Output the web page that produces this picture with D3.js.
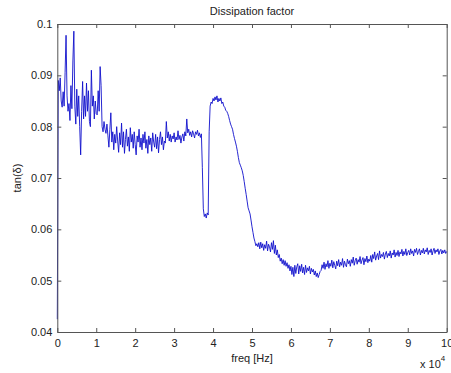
<!DOCTYPE html>
<html>
<head>
<meta charset="utf-8">
<script src="https://cdn.jsdelivr.net/npm/d3@7"></script>
<style>
  body { margin: 0; background: #fff; }
  svg text { font-family: "Liberation Sans", Arial, sans-serif; fill: #222; }
</style>
</head>
<body>
<div id="chart"></div>
<script>
// Chart size
const width = 451;
const height = 373;

// Frequency step between samples (Hz)
const freqStep = 250;

// tan(delta) values, one per 250 Hz from 0 to 100 kHz
const tanDelta = [
  0.0425, 0.0890, 0.0870, 0.0895, 0.0850, 0.0838, 0.0868, 0.0840, 0.0905, 0.0978,
  0.0860, 0.0830, 0.0845, 0.0812, 0.0880, 0.0835, 0.0928, 0.0986, 0.0840, 0.0805,
  0.0873, 0.0820, 0.0860, 0.0800, 0.0745, 0.0830, 0.0888, 0.0815, 0.0860, 0.0820,
  0.0885, 0.0830, 0.0870, 0.0810, 0.0800, 0.0910, 0.0840, 0.0860, 0.0815, 0.0850,
  0.0825, 0.0823, 0.0870, 0.0830, 0.0917, 0.0880, 0.0800, 0.0790, 0.0810, 0.0795,
  0.0787, 0.0805, 0.0782, 0.0760, 0.0795, 0.0827, 0.0770, 0.0790, 0.0755, 0.0785,
  0.0768, 0.0800, 0.0772, 0.0750, 0.0788, 0.0765, 0.0807, 0.0760, 0.0790, 0.0748,
  0.0775, 0.0795, 0.0762, 0.0780, 0.0752, 0.0798, 0.0770, 0.0785, 0.0758, 0.0790,
  0.0765, 0.0745, 0.0782, 0.0770, 0.0795, 0.0760, 0.0778, 0.0755, 0.0785, 0.0768,
  0.0790, 0.0758, 0.0775, 0.0748, 0.0782, 0.0765, 0.0778, 0.0752, 0.0788, 0.0770,
  0.0760, 0.0785, 0.0757, 0.0780, 0.0749, 0.0775, 0.0790, 0.0765, 0.0780, 0.0755,
  0.0772, 0.0768, 0.0810, 0.0778, 0.0790, 0.0772, 0.0785, 0.0770, 0.0782, 0.0776,
  0.0788, 0.0770, 0.0780, 0.0774, 0.0792, 0.0775, 0.0783, 0.0768, 0.0780, 0.0786,
  0.0772, 0.0790, 0.0782, 0.0815, 0.0788, 0.0795, 0.0783, 0.0790, 0.0780, 0.0792,
  0.0786, 0.0778, 0.0790, 0.0785, 0.0793, 0.0782, 0.0788, 0.0779, 0.0786, 0.0720,
  0.0640, 0.0625, 0.0630, 0.0622, 0.0632, 0.0628, 0.0790, 0.0840, 0.0848, 0.0845,
  0.0855, 0.0850, 0.0858, 0.0852, 0.0860, 0.0848, 0.0855, 0.0850, 0.0856, 0.0845,
  0.0848, 0.0840, 0.0838, 0.0832, 0.0830, 0.0826, 0.0820, 0.0812, 0.0805, 0.0800,
  0.0795, 0.0785, 0.0777, 0.0770, 0.0762, 0.0752, 0.0740, 0.0730, 0.0725, 0.0720,
  0.0714, 0.0705, 0.0693, 0.0680, 0.0668, 0.0655, 0.0642, 0.0636, 0.0630, 0.0618,
  0.0605, 0.0594, 0.0583, 0.0576, 0.0568, 0.0572, 0.0566, 0.0574, 0.0562, 0.0575,
  0.0564, 0.0572, 0.0559, 0.0570, 0.0563, 0.0577, 0.0558, 0.0571, 0.0566, 0.0556,
  0.0574, 0.0561, 0.0578, 0.0553, 0.0569, 0.0550, 0.0560, 0.0545, 0.0551, 0.0538,
  0.0544, 0.0533, 0.0541, 0.0530, 0.0539, 0.0528, 0.0535, 0.0524, 0.0531, 0.0519,
  0.0528, 0.0512, 0.0526, 0.0508, 0.0530, 0.0514, 0.0527, 0.0533, 0.0513, 0.0529,
  0.0518, 0.0532, 0.0515, 0.0526, 0.0512, 0.0530, 0.0516, 0.0525, 0.0519, 0.0528,
  0.0513, 0.0524, 0.0517, 0.0522, 0.0511, 0.0519, 0.0508, 0.0515, 0.0506, 0.0512,
  0.0518, 0.0520, 0.0531, 0.0524, 0.0536, 0.0522, 0.0533, 0.0527, 0.0539, 0.0524,
  0.0534, 0.0528, 0.0540, 0.0525, 0.0537, 0.0530, 0.0523, 0.0538, 0.0529, 0.0541,
  0.0527, 0.0536, 0.0530, 0.0543, 0.0526, 0.0538, 0.0531, 0.0527, 0.0542, 0.0533,
  0.0539, 0.0528, 0.0541, 0.0534, 0.0546, 0.0530, 0.0539, 0.0544, 0.0532, 0.0541,
  0.0536, 0.0547, 0.0533, 0.0540, 0.0545, 0.0531, 0.0543, 0.0537, 0.0548, 0.0535,
  0.0542, 0.0538, 0.0549, 0.0536, 0.0551, 0.0543, 0.0556, 0.0540, 0.0548, 0.0553,
  0.0541, 0.0558, 0.0544, 0.0551, 0.0547, 0.0555, 0.0542, 0.0552, 0.0557, 0.0545,
  0.0553, 0.0548, 0.0558, 0.0544, 0.0554, 0.0550, 0.0560, 0.0546, 0.0555, 0.0549,
  0.0559, 0.0547, 0.0556, 0.0552, 0.0561, 0.0548, 0.0557, 0.0551, 0.0562, 0.0549,
  0.0555, 0.0559, 0.0550, 0.0562, 0.0553, 0.0558, 0.0548, 0.0561, 0.0555, 0.0563,
  0.0551, 0.0557, 0.0562, 0.0550, 0.0559, 0.0554, 0.0563, 0.0552, 0.0560, 0.0556,
  0.0564, 0.0551, 0.0559, 0.0555, 0.0562, 0.0550, 0.0558, 0.0563, 0.0553, 0.0560,
  0.0556, 0.0562, 0.0551, 0.0558, 0.0561, 0.0552, 0.0559, 0.0554, 0.0560, 0.0553,
  0.0557
];

// Ticks and their labels
const xTicks = [0, 10000, 20000, 30000, 40000, 50000, 60000, 70000, 80000, 90000, 100000];
const xTickLabels = ["0", "1", "2", "3", "4", "5", "6", "7", "8", "9", "10"];
const yTicks = [0.04, 0.05, 0.06, 0.07, 0.08, 0.09, 0.1];
const yTickLabels = ["0.04", "0.05", "0.06", "0.07", "0.08", "0.09", "0.1"];

// Plot box
const plot = { left: 57.3, right: 446.7, top: 24, bottom: 332 };

const svg = d3.select("#chart")
    .append("svg")
    .attr("width", width)
    .attr("height", height);

const x = d3.scaleLinear().domain([0, 100000]).range([plot.left, plot.right]);
const y = d3.scaleLinear().domain([0.04, 0.1]).range([plot.bottom, plot.top]);

// Data line
const line = d3.line()
    .x((d, i) => x(i * freqStep))
    .y(d => y(d));

svg.append("path")
    .datum(tanDelta)
    .attr("d", line)
    .attr("fill", "none")
    .attr("stroke", "#1010cc")
    .attr("stroke-width", 0.9)
    .attr("stroke-linejoin", "round");

// Axes: ticks point inwards on all four sides, like MATLAB
function styleAxis(g) {
    g.select(".domain").attr("stroke", "#555");
    g.selectAll(".tick line").attr("stroke", "#555");
    g.selectAll(".tick text")
        .attr("font-size", 11)
        .attr("fill", "#222")
        .attr("font-family", "Liberation Sans, Arial, sans-serif");
}

svg.append("g")
    .attr("transform", `translate(0,${plot.bottom})`)
    .call(d3.axisBottom(x).tickValues(xTicks)
        .tickFormat((d, i) => xTickLabels[i])
        .tickSizeInner(-4).tickSizeOuter(0).tickPadding(7))
    .call(styleAxis);

svg.append("g")
    .attr("transform", `translate(0,${plot.top})`)
    .call(d3.axisTop(x).tickValues(xTicks).tickFormat("")
        .tickSizeInner(-4).tickSizeOuter(0))
    .call(styleAxis);

svg.append("g")
    .attr("transform", `translate(${plot.left},0)`)
    .call(d3.axisLeft(y).tickValues(yTicks)
        .tickFormat((d, i) => yTickLabels[i])
        .tickSizeInner(-4).tickSizeOuter(0).tickPadding(5))
    .call(styleAxis);

svg.append("g")
    .attr("transform", `translate(${plot.right},0)`)
    .call(d3.axisRight(y).tickValues(yTicks).tickFormat("")
        .tickSizeInner(-4).tickSizeOuter(0))
    .call(styleAxis);

// Title and axis labels
svg.append("text")
    .attr("x", (plot.left + plot.right) / 2)
    .attr("y", 15)
    .attr("text-anchor", "middle")
    .attr("font-size", 11)
    .text("Dissipation factor");

svg.append("text")
    .attr("transform", `translate(21,${(plot.top + plot.bottom) / 2}) rotate(-90)`)
    .attr("text-anchor", "middle")
    .attr("font-size", 11)
    .text("tan(δ)");

svg.append("text")
    .attr("x", (plot.left + plot.right) / 2)
    .attr("y", 362)
    .attr("text-anchor", "middle")
    .attr("font-size", 11)
    .text("freq [Hz]");

const expo = svg.append("text")
    .attr("x", 420)
    .attr("y", 368)
    .attr("font-size", 11);
expo.append("tspan").text("x 10");
expo.append("tspan").attr("dy", -7).attr("font-size", 8).text("4");
</script>
</body>
</html>
